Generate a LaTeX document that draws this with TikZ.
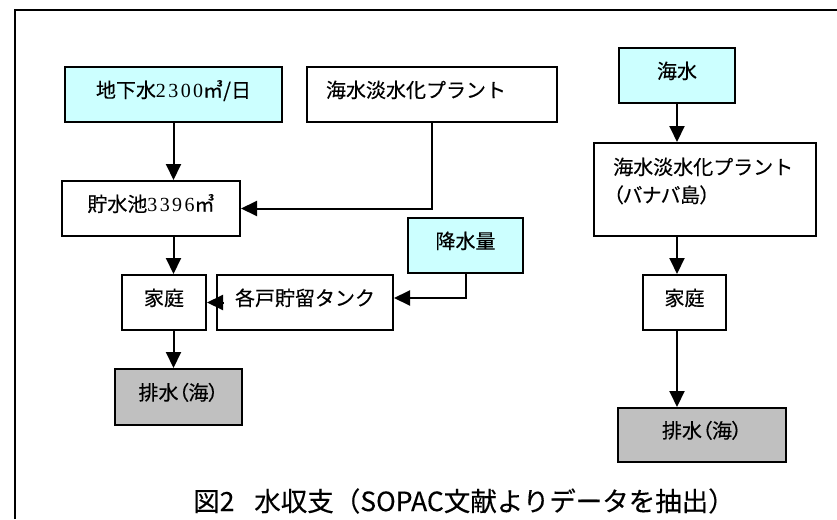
\documentclass[tikz,border=0pt]{standalone}
\usepackage{fontspec}
\setmainfont{Noto Sans CJK JP}[FakeBold=0.3]
\newfontfamily\paltfont{Noto Sans CJK JP}[RawFeature=+palt, FakeBold=0.3]
\newfontfamily\numfont{Liberation Serif}[LetterSpace=12]
\usetikzlibrary{arrows.meta}
\definecolor{lcyan}{HTML}{CCFFFF}
\definecolor{lgray}{HTML}{C0C0C0}
\tikzset{
  box/.style={draw=black, line width=2pt, minimum height=55pt, inner sep=0pt,
    font=\fontsize{20}{24}\selectfont, text height=14pt, text depth=8pt},
  src/.style={box, fill=lcyan},
  sink/.style={box, fill=lgray},
  txt/.style={inner sep=0pt, font=\fontsize{20}{24}\selectfont, anchor=base west},
  arr/.style={line width=2pt, -{Triangle[length=16pt,width=15pt]}},
  frame/.style={line width=2pt, draw=black},
}
\begin{document}
\begin{tikzpicture}[x=1pt,y=-1pt]
\useasboundingbox (0,0) rectangle (837,519);
\draw[frame] (15,519) -- (15,10) -- (837,10);

% left system
\node[src, minimum width=217pt] (gw) at (173.5,94.5) {地下水{\numfont 2300}㎥/日};
\node[box, minimum width=250pt] (plantL) at (432,94.5) {\makebox[212pt][l]{海水淡水化プラント}};
\node[box, minimum width=178pt] (res) at (151,208.5) {貯水池{\numfont 3396}㎥};
\node[src, minimum width=115pt] (rain) at (465.5,245.5) {降水量};
\node[box, minimum width=84pt] (home1) at (164,302.5) {家庭};
\node[box, minimum width=176pt] (tank) at (305,302.5) {各戸貯留タンク};
\node[sink, minimum width=127pt, minimum height=56pt] (drain1) at (178.5,397) {\paltfont 排水（海）};

% right system
\node[src, minimum width=116pt] (sea) at (677,75.5) {海水};
\node[box, minimum width=222pt, minimum height=93pt] (plantR) at (705,189.5) {};
\node[txt] (pr1) at (613,174.5) {海水淡水化プラント};
\node[txt] (pr2) at (613,202.5) {\paltfont （バナバ島）};
\node[box, minimum width=83pt] (home2) at (684.5,302.5) {家庭};
\node[sink, minimum width=168pt, minimum height=54pt] (drain2) at (702,435) {\paltfont 排水（海）};

% caption
\node[inner sep=0pt, font=\fontsize{26.5}{30}\selectfont] (cap) at (464,501)
  {図2\hspace{0.75em}水収支（SOPAC文献よりデータを抽出）};

% connectors left
\draw[arr] (gw.south) -- (gw.south |- res.north);
\draw[arr] (plantL.south) |- (res.east);
\draw[arr] (res.south -| gw.south) -- (home1.north -| gw.south);
\draw[arr] (rain.south) |- ([yshift=4.5pt]tank.east);
\draw[arr] ([xshift=7pt]tank.west) -- (home1.east);
\draw[arr] (home1.south -| gw.south) -- (drain1.north -| gw.south);

% connectors right
\draw[arr] (sea.south) -- (sea.south |- plantR.north);
\draw[arr] (plantR.south -| sea.south) -- (home2.north -| sea.south);
\draw[arr] (home2.south -| sea.south) -- (drain2.north -| sea.south);
\end{tikzpicture}
\end{document}
